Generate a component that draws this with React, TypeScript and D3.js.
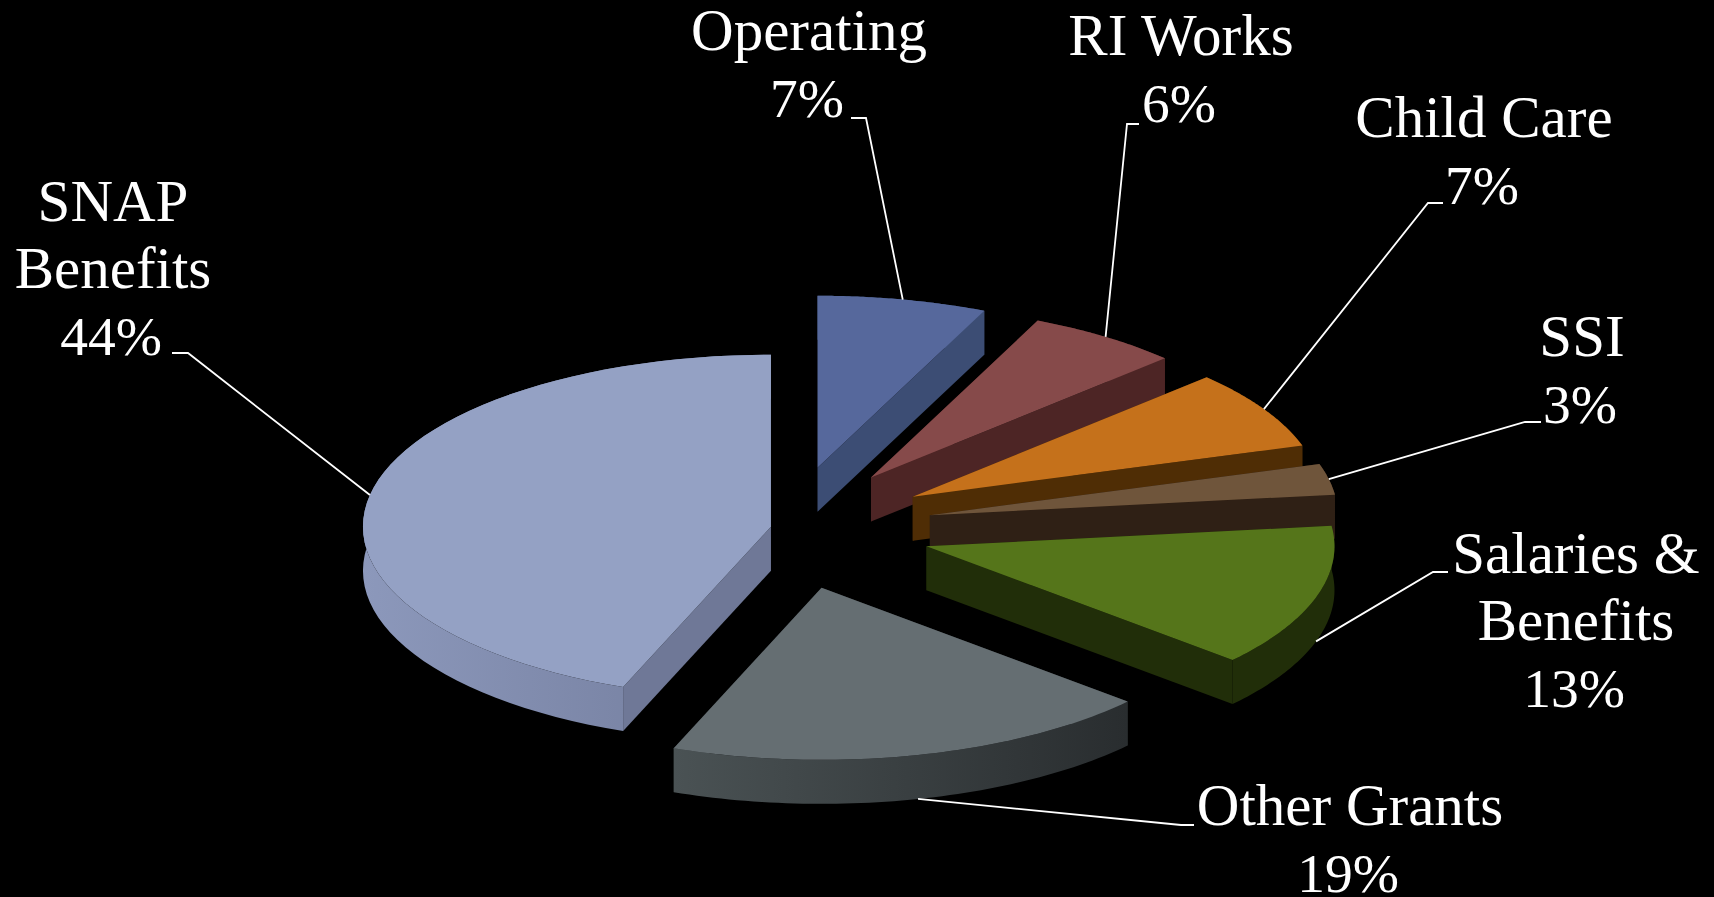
import * as d3 from "d3";
import React from 'react'

// slice shares (the labels below are these, rounded), clockwise from 12 o'clock
const categories = ["Operating", "RI Works", "Child Care", "SSI", "Salaries & Benefits", "Other Grants", "SNAP Benefits"]
const values = [6.7, 6.1, 7.4, 2.9, 13.4, 19.4, 44.1]
const explosion = [0.358, 0.358, 0.358, 0.358, 0.358, 0.358, 0.04]

const topColors = ["#56689c", "#864a4a", "#c5711b", "#6f553b", "#55751a", "#656e72", "#94a1c4"]
const wallColors = ["#3c4d74", "#4d2525", "#4f2d05", "#2f2015", "#212e09", "#2b3032", "#6f7897"]
const rimFrom = ["#3c4d74", "#4d2525", "#4f2d05", "#2f2015", "#212e09", "#4a5254", "#8c98bb"]
const rimTo = ["#3c4d74", "#4d2525", "#4f2d05", "#2f2015", "#212e09", "#292d2f", "#717b9b"]

// label layout: name lines, percent, centre x, first baseline, leader elbow (text end, bend)
const nameLines = [["Operating"], ["RI Works"], ["Child Care"], ["SSI"], ["Salaries &", "Benefits"], ["Other Grants"], ["SNAP", "Benefits"]]
const percents = ["7%", "6%", "7%", "3%", "13%", "19%", "44%"]
const labelX = [809, 1181, 1484, 1582, 1576, 1350, 113]
const labelY = [50, 55, 137, 356, 573, 825, 221]
const elbowA: [number, number][] = [[851, 118], [1139, 124], [1443, 203], [1541, 422], [1448, 572], [1194, 825], [172, 353]]
const elbowB: [number, number][] = [[866, 118], [1127, 124], [1428, 203], [1525, 422], [1433, 572], [1181, 825], [188, 353]]

const W = 1714
const H = 897
const cx = 787
const cy = 528
const radius = 408
const squash = 0.4216
const depth = 44
const fontSize = 59
const percentSize = 55.5
const lineGap = 67

const line = d3.line()

const slices = d3.pie<number>().sort(null).startAngle(0).endAngle(2 * Math.PI)(values)

// point on the tilted plane, a = clockwise from 12 o'clock, moved out along the slice's middle
const point = (s: d3.PieArcDatum<number>, i: number, a: number, r: number, drop = 0): [number, number] => {
  const mid = (s.startAngle + s.endAngle) / 2
  const e = explosion[i] * radius
  return [
    cx + Math.sin(mid) * e + Math.sin(a) * r,
    cy - (Math.cos(mid) * e + Math.cos(a) * r) * squash + drop
  ]
}

const Slice: React.FC<{ s: d3.PieArcDatum<number>, i: number }> = ({ s, i }) => {
  const steps = d3.range(0, 61)
  const angle = d3.scaleLinear([0, 60], [s.startAngle, s.endAngle])
  const rim = steps.map(k => point(s, i, angle(k), radius))
  const rimLow = steps.map(k => point(s, i, angle(k), radius, depth))
  const apex = point(s, i, 0, 0)
  const apexLow = point(s, i, 0, 0, depth)

  const top = line([apex, ...rim])! + "Z"
  const wallStart = line([apex, rim[0], rimLow[0], apexLow])! + "Z"
  const wallEnd = line([apex, rim[60], rimLow[60], apexLow])! + "Z"
  const rimStrip = line([...rim, ...rimLow.slice().reverse()])! + "Z"

  return (
    <g>
      <linearGradient id={"rim" + i} x1="0" x2="1" y1="0" y2="0">
        <stop offset="0" stopColor={rimFrom[i]} />
        <stop offset="1" stopColor={rimTo[i]} />
      </linearGradient>
      <path d={wallStart} fill={wallColors[i]} />
      <path d={wallEnd} fill={wallColors[i]} />
      <path d={rimStrip} fill={`url(#rim${i})`} />
      <path d={top} fill={topColors[i]} />
    </g>
  )
}

const Leader: React.FC<{ s: d3.PieArcDatum<number>, i: number }> = ({ s, i }) => {
  const mid = (s.startAngle + s.endAngle) / 2
  const end = point(s, i, mid, radius, Math.cos(mid) < 0 ? depth : 0)
  return <path d={line([elbowA[i], elbowB[i], end])!} fill="none" stroke="#fff" strokeWidth={1.8} />
}

const App: React.FC = () => {
  return (
    <svg width={W} height={H} viewBox={`0 0 ${W} ${H}`} style={{ position: "fixed", left: 0, top: 0, background: "#000" }}>
      <rect width={W} height={H} fill="#000" />
      {slices.map((s, i) => <Slice key={categories[i]} s={s} i={i} />)}
      {slices.map((s, i) => <Leader key={categories[i]} s={s} i={i} />)}
      {nameLines.map((lines, i) => (
        <text key={categories[i]} textAnchor="middle" fill="#fff" fontFamily="'Liberation Serif', serif" fontSize={fontSize}>
          {lines.map((t, k) => <tspan key={t} x={labelX[i]} y={labelY[i] + k * lineGap}>{t}</tspan>)}
          <tspan x={labelX[i] - 2} y={labelY[i] + lines.length * lineGap} fontSize={percentSize}>{percents[i]}</tspan>
        </text>
      ))}
    </svg>
  )
}

export default App
